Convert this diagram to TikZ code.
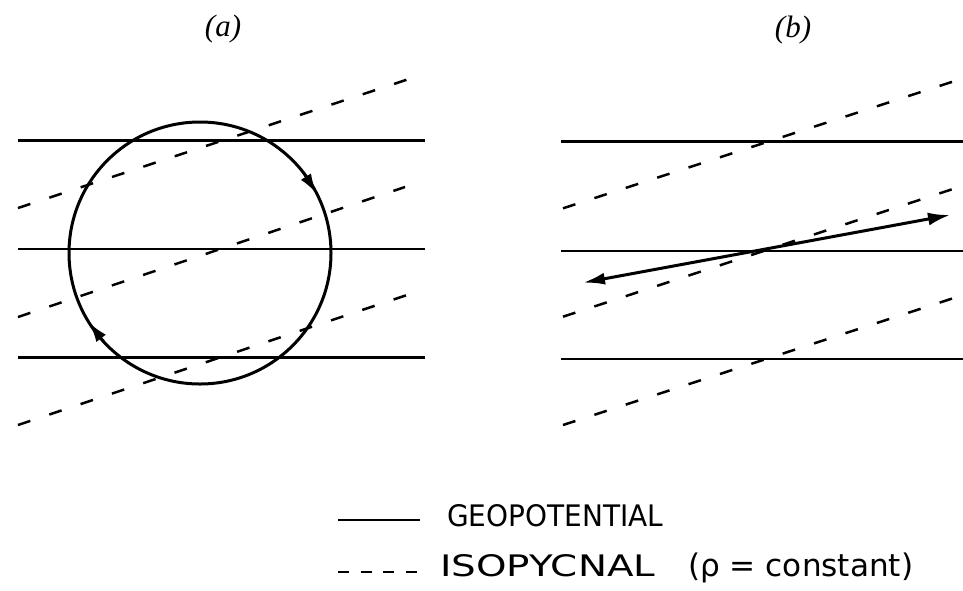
\documentclass[tikz,border=0pt]{standalone}
\usepackage{fontspec}
\usepackage{graphicx}
\newfontfamily\legfont{DejaVu Sans}
\newfontfamily\labfont{Liberation Serif}
\usetikzlibrary{arrows.meta}
\tikzset{
  geoline/.style={line width=2.6pt, black},
  isoline/.style={line width=2.5pt, black, dash pattern=on 13pt off 20pt},
  tipstyle/.style={-{Latex[length=20pt,width=12pt]}, line width=2.6pt},
  panellabel/.style={inner sep=0, font=\labfont\fontsize{31}{36}\selectfont\itshape},
}
\begin{document}
\begin{tikzpicture}[x=1pt,y=-1pt]
\fill[white] (0,0) rectangle (963,590);
\useasboundingbox (0,0) rectangle (963,590);

% panel labels
\node[panellabel] (la) at (223,29) {(a)};
\node[panellabel] (lb) at (793,30) {(b)};

% ---------- panel (a) ----------
\coordinate (a1l) at (18,140.5);  \coordinate (a1r) at (425,140.5);
\coordinate (a2l) at (18,249.3);  \coordinate (a2r) at (425,249.3);
\coordinate (a3l) at (18,357.3);  \coordinate (a3r) at (425,357.3);
\draw[geoline] (a1l) -- (a1r);
\draw[geoline, line width=2.2pt] (a2l) -- (a2r);
\draw[geoline] (a3l) -- (a3r);

\coordinate (ad1l) at (18,208);  \coordinate (ad1r) at (415,77);
\coordinate (ad2l) at (18,317);  \coordinate (ad2r) at (405,187);
\coordinate (ad3l) at (18,425);  \coordinate (ad3r) at (413,293);
\draw[isoline] (ad1l) -- (ad1r);
\draw[isoline] (ad2l) -- (ad2r);
\draw[isoline] (ad3l) -- (ad3r);

\node[circle, draw, line width=3pt, minimum size=262pt, inner sep=0, outer sep=0] (circ) at (200,253) {};
\draw[tipstyle] (circ.38) -- (circ.27);
\draw[tipstyle] (circ.223) -- (circ.212);

% ---------- panel (b) ----------
\coordinate (b1l) at (561,141.7);  \coordinate (b1r) at (963,141.7);
\coordinate (b2l) at (561,250.7);  \coordinate (b2r) at (963,250.7);
\coordinate (b3l) at (561,359);    \coordinate (b3r) at (963,359);
\draw[geoline] (b1l) -- (b1r);
\draw[geoline, line width=2.2pt] (b2l) -- (b2r);
\draw[geoline] (b3l) -- (b3r);

\coordinate (bd1l) at (563,208.3);  \coordinate (bd1r) at (963,78.3);
\coordinate (bd2l) at (563,316.7);  \coordinate (bd2r) at (955,188.3);
\coordinate (bd3l) at (563,425);    \coordinate (bd3r) at (963,295);
\draw[isoline] (bd1l) -- (bd1r);
\draw[isoline] (bd2l) -- (bd2r);
\draw[isoline] (bd3l) -- (bd3r);

\coordinate (bL) at (583,282.7);
\coordinate (bR) at (950,215);
\draw[{Latex[length=22pt,width=12pt]}-{Latex[length=22pt,width=13pt]}, line width=3pt] (bL) -- (bR);

% ---------- legend ----------
\coordinate (g1) at (338,520);  \coordinate (g2) at (420,520);
\draw[geoline] (g1) -- (g2);
\coordinate (i1) at (338,572);  \coordinate (i2) at (417,572);
\draw[line width=2pt, dash pattern=on 11pt off 11.67pt] (i1) -- (i2);

\node[anchor=west, inner sep=0] (geo) at (447,516) {\legfont\resizebox{216pt}{22pt}{GEOPOTENTIAL}};
\node[anchor=west, inner sep=0] (iso) at (440,566) {\legfont\resizebox{215pt}{22pt}{ISOPYCNAL}};
\node[anchor=base west, inner sep=0] (rho) at (688,576) {\legfont\fontsize{30}{36}\selectfont\resizebox{225pt}{!}{(ρ = constant)}};
\end{tikzpicture}
\end{document}
